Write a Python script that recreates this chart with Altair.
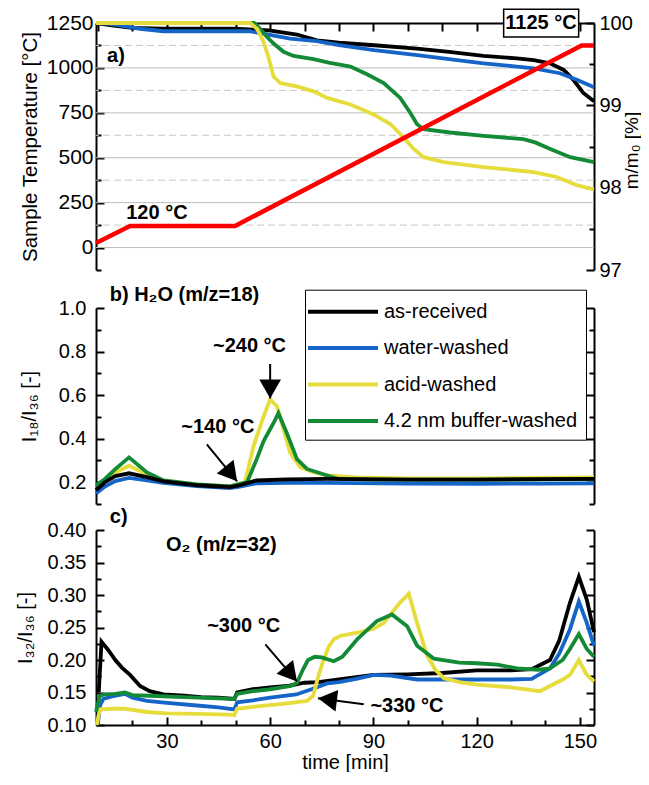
import altair as alt
import pandas as pd

FONT = "Liberation Sans"
SERIES = ["as-received", "water-washed", "acid-washed", "4.2 nm buffer-washed"]
COLORS = ["#000000", "#1565C8", "#E6DC3C", "#138A36"]
TEMP_COLOR = "#FF0000"

XDOM = [9.4, 154.1]
TDOM = [-125, 1250]
MDOM = [97, 100]
HDOM = [0.1, 1.0]
ODOM = [0.1, 0.4]

# ---------------- panel a : temperature programme ----------------
temp_t = [9.4, 19.3, 49.8, 150.5, 154.1]
temp_v = [25, 120, 120, 1125, 1125]

# ---------------- panel a : relative mass m/m0 [%] ----------------
mass_black_t = [9.4, 14, 19.9, 29, 49.8, 55, 59.7, 63, 67.8, 73.6, 80, 90.2, 102.7, 112, 122, 131.7, 136.6, 141.3, 145.3, 148.1, 151, 154.1]
mass_black_v = [100.0, 99.97, 99.94, 99.93, 99.93, 99.92, 99.91, 99.89, 99.86, 99.79, 99.76, 99.73, 99.69, 99.65, 99.6, 99.57, 99.55, 99.51, 99.43, 99.31, 99.15, 99.05]
mass_blue_t = [9.4, 13.5, 18, 22.2, 29, 54, 58, 65.8, 73.6, 80, 90.2, 102.7, 112, 122, 131.7, 136.6, 144.2, 149.1, 154.1]
mass_blue_v = [100.0, 99.99, 99.96, 99.93, 99.9, 99.9, 99.87, 99.81, 99.78, 99.73, 99.67, 99.61, 99.56, 99.51, 99.47, 99.45, 99.39, 99.31, 99.22]
mass_yellow_t = [9.4, 54.2, 56.2, 58.1, 59.6, 61, 62.9, 67.8, 72.6, 76.6, 83.3, 90.1, 95, 98.8, 101.7, 104.6, 110.4, 122, 136.5, 143.3, 149.1, 154.1]
mass_yellow_v = [100.0, 100.0, 99.93, 99.77, 99.57, 99.35, 99.27, 99.23, 99.17, 99.09, 99.01, 98.89, 98.77, 98.61, 98.47, 98.37, 98.31, 98.25, 98.19, 98.13, 98.03, 97.98]
mass_green_t = [9.4, 55.3, 57.1, 59.1, 61, 63.9, 66.8, 72.6, 77, 83.3, 88, 93, 97.8, 100.7, 102.7, 104.6, 112.3, 122, 133.6, 137, 141.4, 147.2, 154.1]
mass_green_v = [100.0, 100.0, 99.93, 99.83, 99.75, 99.65, 99.6, 99.56, 99.52, 99.47, 99.38, 99.27, 99.09, 98.91, 98.77, 98.71, 98.67, 98.63, 98.59, 98.55, 98.47, 98.37, 98.31]

# ---------------- panel b : H2O (m/z=18) ----------------
h2o_black_t = [9.4, 12, 15, 19, 24.2, 29, 38.7, 48.3, 51.2, 56, 65, 76.6, 100, 120, 140, 154.1]
h2o_black_v = [0.163, 0.2, 0.228, 0.241, 0.223, 0.204, 0.186, 0.178, 0.186, 0.208, 0.213, 0.215, 0.212, 0.212, 0.214, 0.215]
h2o_blue_t = [9.4, 12, 15, 19, 24.2, 29, 38.7, 48.3, 51.2, 56, 65, 76.6, 100, 120, 140, 154.1]
h2o_blue_v = [0.148, 0.18, 0.205, 0.22, 0.208, 0.197, 0.182, 0.173, 0.18, 0.195, 0.197, 0.197, 0.194, 0.193, 0.194, 0.195]
h2o_yellow_t = [9.4, 12, 15, 19, 24.2, 29, 38.7, 48.3, 52.7, 55.2, 58.1, 60, 62, 63.9, 65.8, 68.8, 72.6, 76.6, 85, 100, 120, 154.1]
h2o_yellow_v = [0.186, 0.21, 0.245, 0.276, 0.235, 0.208, 0.19, 0.181, 0.2, 0.367, 0.502, 0.58, 0.548, 0.442, 0.336, 0.268, 0.246, 0.231, 0.222, 0.218, 0.218, 0.222]
h2o_green_t = [9.4, 12, 15, 19, 24.2, 29, 38.7, 48.3, 53.3, 56.1, 58.1, 61, 62.4, 64.8, 67.8, 70.7, 76.6, 80, 90, 120, 154.1]
h2o_green_v = [0.186, 0.215, 0.26, 0.314, 0.245, 0.208, 0.19, 0.181, 0.2, 0.306, 0.389, 0.472, 0.517, 0.427, 0.306, 0.261, 0.231, 0.215, 0.212, 0.212, 0.214]

# ---------------- panel c : O2 (m/z=32) ----------------
o2_black_t = [10.2, 11.0, 13, 15, 17, 19.3, 22.2, 25, 29, 35, 40, 45, 49.6, 50.4, 55, 60, 65, 70, 74, 80, 90, 100, 110, 120, 130, 136, 141.3, 144, 147.1, 149.7, 152, 154.1]
o2_black_v = [0.15, 0.228, 0.215, 0.2, 0.188, 0.177, 0.16, 0.152, 0.147, 0.145, 0.143, 0.142, 0.14, 0.15, 0.155, 0.158, 0.16, 0.165, 0.166, 0.17, 0.177, 0.178, 0.18, 0.184, 0.184, 0.186, 0.2, 0.23, 0.288, 0.328, 0.293, 0.243]
o2_blue_t = [9.9, 10.6, 11.5, 14, 17.8, 20, 24.2, 30, 38.7, 45, 49.6, 50.4, 55, 60, 67.6, 72, 76.6, 80, 85, 90.2, 95, 102.7, 110, 120, 130, 136, 141.3, 144, 147.1, 149.7, 152, 154.1]
o2_blue_v = [0.10, 0.13, 0.14, 0.144, 0.148, 0.142, 0.137, 0.134, 0.13, 0.127, 0.124, 0.135, 0.138, 0.142, 0.147, 0.155, 0.164, 0.166, 0.171, 0.177, 0.176, 0.17, 0.17, 0.17, 0.17, 0.171, 0.187, 0.21, 0.247, 0.29, 0.257, 0.222]
o2_yellow_t = [9.6, 10.5, 14, 17.8, 24.2, 30, 38.7, 48.3, 49.6, 50.4, 55, 63, 70.7, 72.5, 74, 75.5, 77, 78.5, 80.3, 86, 90, 93, 97.7, 100.3, 102.7, 105.6, 108, 110.5, 115, 120, 130, 135.5, 138.4, 141.3, 145, 147.1, 149.7, 152, 154.1]
o2_yellow_v = [0.10, 0.124, 0.125, 0.125, 0.12, 0.118, 0.117, 0.116, 0.115, 0.125, 0.128, 0.132, 0.137, 0.145, 0.175, 0.2, 0.22, 0.232, 0.237, 0.243, 0.248, 0.257, 0.288, 0.302, 0.257, 0.207, 0.185, 0.172, 0.166, 0.162, 0.158, 0.154, 0.152, 0.16, 0.17, 0.177, 0.2, 0.177, 0.167]
o2_green_t = [9.4, 10.5, 12, 15, 17.8, 20, 25, 35, 45, 49.6, 50.4, 55, 60, 66, 67.8, 69.5, 71, 73, 75, 78.5, 81, 85.3, 91, 95.4, 99.8, 102.7, 107.6, 115, 120, 126, 131.7, 138, 141.3, 145, 147.1, 149.7, 152, 154.1]
o2_green_v = [0.12, 0.145, 0.147, 0.148, 0.15, 0.146, 0.145, 0.143, 0.141, 0.14, 0.148, 0.152, 0.155, 0.16, 0.165, 0.185, 0.2, 0.205, 0.204, 0.198, 0.205, 0.232, 0.26, 0.27, 0.252, 0.222, 0.202, 0.196, 0.195, 0.193, 0.187, 0.185, 0.187, 0.2, 0.217, 0.24, 0.217, 0.205]

# ---------------- axis values ----------------
T_MAJOR = [0, 250, 500, 750, 1000, 1250]
T_MINOR = [-125, 125, 375, 625, 875, 1125]
M_MAJOR = [97, 98, 99, 100]
M_MINOR = [97.5, 98.5, 99.5]
H_MAJOR = [0.2, 0.4, 0.6, 0.8, 1.0]
H_MINOR = [0.1, 0.3, 0.5, 0.7, 0.9]
O_MAJOR = [0.10, 0.15, 0.20, 0.25, 0.30, 0.35, 0.40]
O_MINOR = [0.125, 0.175, 0.225, 0.275, 0.325, 0.375]
X_MAJOR = [30, 60, 90, 120, 150]
X_MINOR = [10, 20, 40, 50, 70, 80, 100, 110, 130, 140]
X_ALL = [10, 20, 30, 40, 50, 60, 70, 80, 90, 100, 110, 120, 130, 140, 150]
GRID_SOLID = [0, 250, 500, 750, 1000]
GRID_DASHED = [125, 375, 625, 875, 1125]

# ---------------- annotations ----------------
a_text_t = [15.2, 27.1, 138.7]
a_text_v = [1068, 190, 1250]
a_text = ["a)", "120 °C", "1125 °C"]
a_box = {"t": [127.85], "t2": [149.64], "v": [1171.5], "v2": [1327]}

b_text_t = [35.1, 54.0, 44.8]
b_text_v = [1.06, 0.826, 0.454]
b_text = ["b) H\u2082O (m/z=18)", "~240 °C", "~140 °C"]
b_arrow = {"t": [60.0, 41.6], "v": [0.743, 0.374], "t2": [60.0, 50.4], "v2": [0.585, 0.204], "ang": [180, 141]}

c_text_t = [16.0, 45.8, 52.3, 99.75]
c_text_v = [0.42, 0.377, 0.252, 0.129]
c_text = ["c)", "O\u2082 (m/z=32)", "~300 °C", "~330 °C"]
c_arrow = {"t": [58.6, 87.2], "v": [0.224, 0.132], "t2": [67.8, 73.9], "v2": [0.167, 0.141], "ang": [140, 277]}

# ---------------- layout constants ----------------
W, HA, HB, HC = 498, 247, 196, 195
MAJ, MIN = 8, 5
HEAD = "M0,0L-0.57,1L0.57,1Z"


def X(axis=None, field="t"):
    return alt.X(f"{field}:Q", scale=alt.Scale(domain=XDOM, nice=False, zero=False), axis=axis)


def Y(field, dom, axis=None):
    return alt.Y(f"{field}:Q", scale=alt.Scale(domain=dom, nice=False, zero=False), axis=axis)


AXC = dict(labelFont=FONT, titleFont=FONT, labelColor="black", titleColor="black",
           titleFontWeight="normal", grid=False, domainColor="black", domainWidth=2,
           labelOverlap=False)


def label_axis(orient, values, fmt, title, lsize=20, tsize=20, lpad=3, **extra):
    return alt.Axis(orient=orient, values=values, format=fmt, title=title, labelFontSize=lsize,
                    titleFontSize=tsize, labelPadding=lpad, ticks=False, tickSize=0,
                    domain=True, **AXC, **extra)


def domain_axis(orient):
    return alt.Axis(orient=orient, domain=True, ticks=False, tickSize=0, labels=False,
                    title=None, grid=False, domainColor="black", domainWidth=2)


def tick_axis(orient, values, size):
    return alt.Axis(orient=orient, values=values, offset=-size, tickSize=size, tickWidth=2,
                    tickColor="black", domain=False, labels=False, grid=False, title=None)


def ghost(ydom, xaxis=None, yaxis=None):
    d = pd.DataFrame({"t": [XDOM[0]], "v": [ydom[0]]})
    return alt.Chart(d).mark_point(opacity=0, size=1).encode(x=X(xaxis), y=Y("v", ydom, yaxis))


def series_layers(arrs, field, dom, order, yaxis_first=None, legend=None, width=3.8):
    out = []
    for i, name in enumerate(order):
        ts, vs = arrs[name]
        df = pd.DataFrame({"t": ts, field: vs, "series": name})
        out.append(alt.Chart(df).mark_line(strokeWidth=width).encode(
            x=X(),
            y=Y(field, dom, yaxis_first if i == 0 else None),
            color=alt.Color("series:N", scale=alt.Scale(domain=SERIES, range=COLORS), legend=legend)))
    return out


def text_layer(ts, vs, labels, dom):
    df = pd.DataFrame({"t": ts, "v": vs, "label": labels})
    return alt.Chart(df).mark_text(font=FONT, fontSize=20, fontWeight="bold", color="black",
                                   align="center", baseline="middle").encode(
        x=X(), y=Y("v", dom), text="label:N")


def arrow_layers(arr, dom):
    df = pd.DataFrame(arr)
    shaft = alt.Chart(df).mark_rule(color="black", strokeWidth=2).encode(
        x=X(), y=Y("v", dom), x2="t2:Q", y2="v2:Q")
    head = alt.Chart(df).mark_point(shape=HEAD, filled=True, color="black", opacity=1, size=1444).encode(
        x=X(field="t2"), y=Y("v2", dom), angle=alt.Angle("ang:Q", scale=None))
    return [shaft, head]


def panel(layers, h):
    return alt.layer(*layers).resolve_scale(x="independent", y="independent").resolve_axis(
        x="independent", y="independent").properties(width=W, height=h)


# ---------------- panel a ----------------
mass = {
    "as-received": (mass_black_t, mass_black_v),
    "water-washed": (mass_blue_t, mass_blue_v),
    "acid-washed": (mass_yellow_t, mass_yellow_v),
    "4.2 nm buffer-washed": (mass_green_t, mass_green_v),
}
grid_s = alt.Chart(pd.DataFrame({"v": GRID_SOLID})).mark_rule(color="#bdbdbd", strokeWidth=1).encode(y=Y("v", TDOM))
grid_d = alt.Chart(pd.DataFrame({"v": GRID_DASHED})).mark_rule(color="#c8c8c8", strokeWidth=1, strokeDash=[7, 4]).encode(y=Y("v", TDOM))
red = alt.Chart(pd.DataFrame({"t": temp_t, "T": temp_v})).mark_line(color=TEMP_COLOR, strokeWidth=4.5).encode(
    x=X(), y=Y("T", TDOM, label_axis("left", T_MAJOR, "d", "Sample Temperature [°C]", lsize=21, tsize=20.5, lpad=3,
                                     titleX=-55.5)))
box = alt.Chart(pd.DataFrame(a_box)).mark_rect(fill="white", stroke="black", strokeWidth=1.5).encode(
    x=X(), x2="t2:Q", y=Y("v", TDOM), y2="v2:Q")

A = panel([
    grid_s, grid_d,
    *series_layers(mass, "m", MDOM, ["as-received", "water-washed", "4.2 nm buffer-washed", "acid-washed"],
                   yaxis_first=label_axis("right", M_MAJOR, "d", "m/m\u2080 [%]", lsize=20, tsize=19, lpad=5,
                                          titleAngle=270, titleBaseline="top", titleX=28, titleY=127)),
    red,
    ghost(TDOM, yaxis=tick_axis("left", T_MAJOR, MAJ)),
    ghost(TDOM, yaxis=tick_axis("left", T_MINOR, MIN)),
    ghost(MDOM, yaxis=tick_axis("right", M_MAJOR, MAJ)),
    ghost(MDOM, yaxis=tick_axis("right", M_MINOR, MIN)),
    ghost(TDOM, xaxis=domain_axis("top")),
    ghost(TDOM, xaxis=tick_axis("top", X_ALL, MAJ)),
    box,
    text_layer(a_text_t, a_text_v, a_text, TDOM),
], HA)

# ---------------- panel b ----------------
h2o = {
    "as-received": (h2o_black_t, h2o_black_v),
    "water-washed": (h2o_blue_t, h2o_blue_v),
    "acid-washed": (h2o_yellow_t, h2o_yellow_v),
    "4.2 nm buffer-washed": (h2o_green_t, h2o_green_v),
}
LEG = alt.Legend(orient="none", legendX=209, legendY=-18.3, title=None,
                 symbolType="M-3,0L3,0", symbolSize=544, symbolStrokeWidth=4, symbolOffset=16,
                 labelOffset=27, labelFont=FONT, labelFontSize=20, labelColor="black", labelLimit=300,
                 rowPadding=12.4, padding=8, strokeColor="black", fillColor="white")

B = panel([
    *series_layers(h2o, "v", HDOM, ["water-washed", "acid-washed", "4.2 nm buffer-washed", "as-received"],
                   yaxis_first=label_axis("left", H_MAJOR, ".1f", "I\u2081\u2088/I\u2083\u2086 [-]", lsize=20, tsize=20,
                                          lpad=10, titleX=-56.8), legend=LEG),
    ghost(HDOM, yaxis=domain_axis("right")),
    ghost(HDOM, yaxis=tick_axis("left", H_MAJOR, MAJ)),
    ghost(HDOM, yaxis=tick_axis("left", H_MINOR, MIN)),
    ghost(HDOM, yaxis=tick_axis("right", H_MAJOR, MAJ)),
    ghost(HDOM, yaxis=tick_axis("right", H_MINOR, MIN)),
    *arrow_layers(b_arrow, HDOM),
    text_layer(b_text_t, b_text_v, b_text, HDOM),
], HB)

# ---------------- panel c ----------------
o2 = {
    "as-received": (o2_black_t, o2_black_v),
    "water-washed": (o2_blue_t, o2_blue_v),
    "acid-washed": (o2_yellow_t, o2_yellow_v),
    "4.2 nm buffer-washed": (o2_green_t, o2_green_v),
}
C = panel([
    *series_layers(o2, "v", ODOM, ["as-received", "water-washed", "acid-washed", "4.2 nm buffer-washed"],
                   yaxis_first=label_axis("left", O_MAJOR, ".2f", "I\u2083\u2082/I\u2083\u2086 [-]", lsize=20, tsize=20,
                                          lpad=10, titleX=-61)),
    ghost(ODOM, yaxis=domain_axis("right")),
    ghost(ODOM, yaxis=tick_axis("left", O_MAJOR, MAJ)),
    ghost(ODOM, yaxis=tick_axis("left", O_MINOR, MIN)),
    ghost(ODOM, yaxis=tick_axis("right", O_MAJOR, MAJ)),
    ghost(ODOM, yaxis=tick_axis("right", O_MINOR, MIN)),
    ghost(ODOM, xaxis=label_axis("bottom", X_MAJOR, "d", "time [min]", lsize=20, tsize=20, lpad=6, titlePadding=1)),
    ghost(ODOM, xaxis=tick_axis("bottom", X_MAJOR, MAJ)),
    ghost(ODOM, xaxis=tick_axis("bottom", X_MINOR, MIN)),
    *arrow_layers(c_arrow, ODOM),
    text_layer(c_text_t, c_text_v, c_text, ODOM),
], HC)

inner = alt.vconcat(B, C, spacing=26, bounds="flush").resolve_scale(color="independent").resolve_legend(color="independent")
chart = alt.vconcat(A, inner, spacing=38, bounds="flush").resolve_scale(color="independent").resolve_legend(
    color="independent").properties(padding={"left": 7, "top": 0, "right": 0, "bottom": 0}).configure(
    font=FONT).configure_view(strokeWidth=0)

chart.save("out.html", embed_options={"renderer": "svg", "actions": False})
